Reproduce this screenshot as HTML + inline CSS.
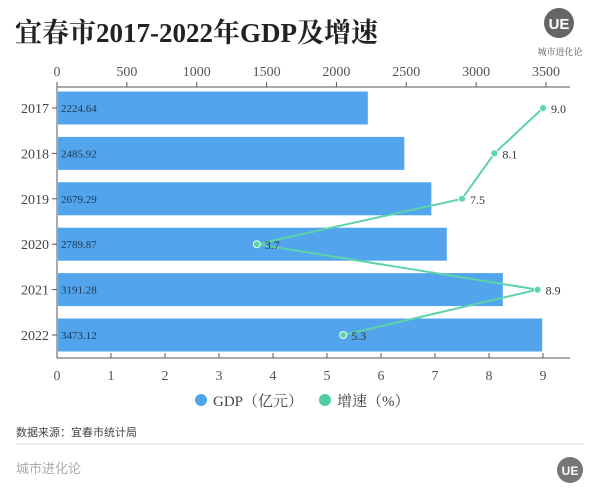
<!DOCTYPE html>
<html><head><meta charset="utf-8"><style>
body{margin:0;background:#fff;width:600px;height:499px;overflow:hidden;font-family:"Liberation Serif","Noto Serif CJK SC",serif;}
</style></head><body>
<svg width="600" height="499" xmlns="http://www.w3.org/2000/svg">
<text x="15" y="42" font-size="27" font-weight="bold" fill="#222" font-family="Liberation Serif, Noto Serif CJK SC, serif">宜春市2017-2022年GDP及增速</text>
<g>
<circle cx="559" cy="23" r="15" fill="#666"/>
<text x="559" y="29" font-size="15" font-weight="bold" fill="#fff" text-anchor="middle" font-family="Liberation Sans, sans-serif">UE</text>
<text x="560" y="55" font-size="9" fill="#555" text-anchor="middle" font-family="Noto Serif CJK SC, serif">城市进化论</text>
</g>
<g id="plot"></g>
<g>
<circle cx="201" cy="400" r="6" fill="#4ea6ea"/>
<text x="213" y="406" font-size="15" fill="#444">GDP（亿元）</text>
<circle cx="325" cy="400" r="6" fill="#4fcf9f"/>
<text x="337" y="406" font-size="15" fill="#444">增速（%）</text>
</g>
<text x="16" y="436" font-size="11" fill="#444" font-family="Noto Sans CJK SC, sans-serif">数据来源：宜春市统计局</text>
<line x1="16" y1="444" x2="584" y2="444" stroke="#ddd"/>
<text x="16" y="473" font-size="13" fill="#aaa" font-family="Noto Sans CJK SC, sans-serif">城市进化论</text>
<g>
<circle cx="570" cy="470" r="13" fill="#777"/>
<text x="570" y="475" font-size="12" font-weight="bold" fill="#fff" text-anchor="middle" font-family="Liberation Sans, sans-serif">UE</text>
</g>
</svg>
<script>
const years=["2017","2018","2019","2020","2021","2022"];
const gdp=[2224.64,2485.92,2679.29,2789.87,3191.28,3473.12];
const growth=[9.0,8.1,7.5,3.7,8.9,5.3];
const topTicks=[0,500,1000,1500,2000,2500,3000,3500];
const bottomTicks=[0,1,2,3,4,5,6,7,8,9];
const NS="http://www.w3.org/2000/svg";
const g=document.getElementById('plot');
const x0=57;
const xTop=v=>x0+v*(546-57)/3500;
const xBot=v=>x0+v*(543-57)/9;
const yTop=87,yBot=358;
const yC=i=>108+i*45.4;
function el(t,a){const e=document.createElementNS(NS,t);for(const k in a)e.setAttribute(k,a[k]);g.appendChild(e);return e;}
let e;
e=el('line',{x1:x0,y1:yTop,x2:570,y2:yTop,stroke:'#555'});


e=el('line',{x1:x0,y1:yBot,x2:570,y2:yBot,stroke:'#555'});


e=el('line',{x1:x0,y1:yTop,x2:x0,y2:yBot,stroke:'#555'});


topTicks.forEach(v=>{
 el('line',{x1:xTop(v),y1:yTop,x2:xTop(v),y2:yTop-5,stroke:'#555'});
 e=el('text',{x:xTop(v),y:yTop-11,'font-size':14,fill:'#555','text-anchor':'middle'});e.textContent=v;
 
 
});
bottomTicks.forEach(v=>{
 el('line',{x1:xBot(v),y1:yBot,x2:xBot(v),y2:yBot-5,stroke:'#555'});
 e=el('text',{x:xBot(v),y:yBot+22,'font-size':14,fill:'#555','text-anchor':'middle'});e.textContent=v;
 
 
});
years.forEach((y,i)=>{
 const c=yC(i);
 el('line',{x1:x0-5,y1:c,x2:x0,y2:c,stroke:'#555'});
 e=el('text',{x:x0-8,y:c+5,'font-size':14,fill:'#444','text-anchor':'end'});e.textContent=y;
 
 
 e=el('rect',{x:x0+1,y:c-16.5,width:xTop(gdp[i])-x0-1,height:33,fill:'#52a5ec'});
 
 
 e=el('text',{x:x0+4,y:c+4,'font-size':11,fill:'#1a3550'});e.textContent=gdp[i].toFixed(2);
 
 
});
const pts=growth.map((v,i)=>xBot(v)+','+yC(i)).join(' ');
e=el('polyline',{points:pts,fill:'none',stroke:'#5dd3a8','stroke-width':2});


growth.forEach((v,i)=>{
 e=el('circle',{cx:xBot(v),cy:yC(i),r:3.5,fill:'#5dd3a8',stroke:'#e8fff5','stroke-width':1});
 
 
 e=el('text',{x:xBot(v)+8,y:yC(i)+5,'font-size':12,fill:'#333'});e.textContent=v.toFixed(1);
 
 
});
</script>
</body></html>
